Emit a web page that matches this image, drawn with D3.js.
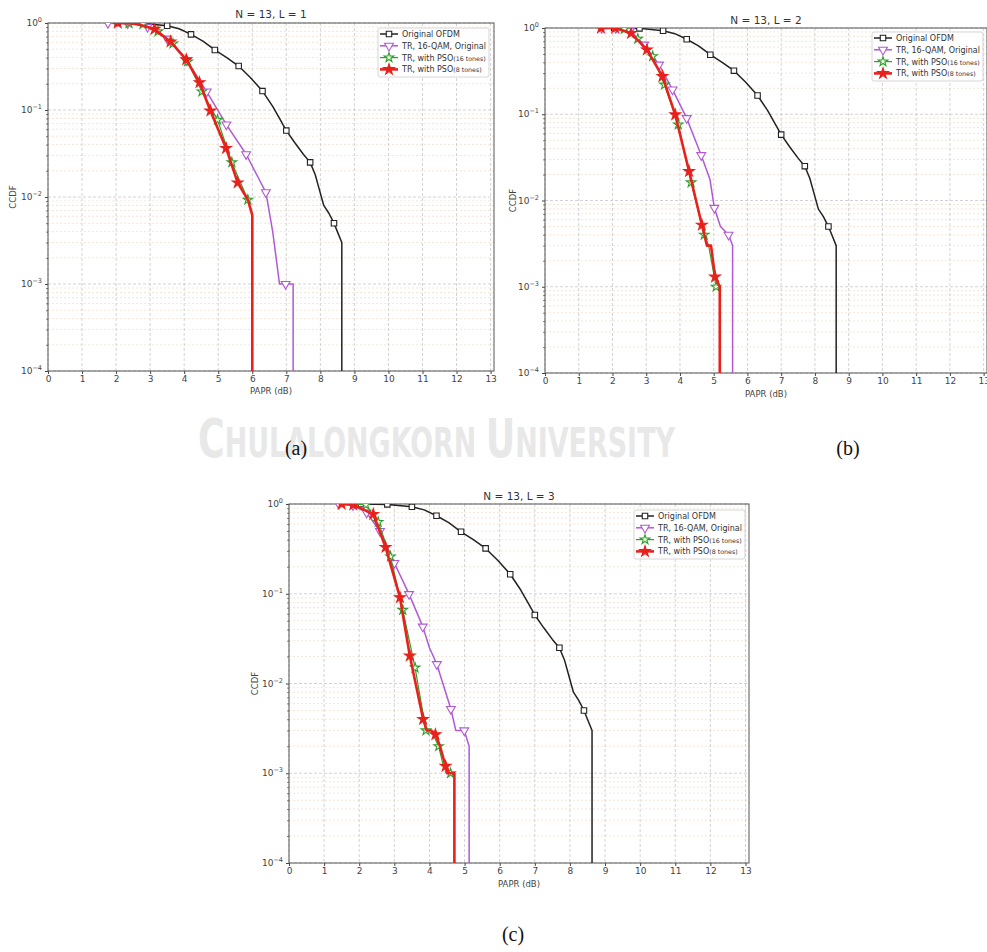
<!DOCTYPE html>
<html><head><meta charset="utf-8">
<script src="https://cdnjs.cloudflare.com/ajax/libs/d3/7.8.5/d3.min.js"></script>
<style>body{margin:0;background:#fff}svg{display:block}</style>
</head><body><svg id="fig" width="987" height="952"></svg>
<script>
//ticks and labels
var xTicks=d3.range(0,14);
var yTicks=[1e-4,1e-3,1e-2,1e-1,1];
var yExp=["\u22124","\u22123","\u22122","\u22121","0"];
var titles=["N = 13, L = 1","N = 13, L = 2","N = 13, L = 3"];
var captions=["(a)","(b)","(c)"];
var names=["Original OFDM","TR, 16-QAM, Original","TR, with PSO","TR, with PSO"];
var nameTail=["","","(16 tones)","(8 tones)"];

// [PAPR dB, CCDF, marker?]
var ofdm=[[2.05,1,1],[2.8,0.99,1],[3.5,0.93,1],[3.85,0.86,0],[4.2,0.74,1],[4.55,0.62,0],[4.9,0.49,1],[5.25,0.40,0],[5.6,0.32,1],[5.95,0.235,0],[6.3,0.165,1],[6.6,0.11,0],[6.8,0.08,0],[7.0,0.058,1],[7.25,0.042,0],[7.5,0.031,0],[7.7,0.025,1],[7.85,0.018,0],[7.95,0.013,0],[8.1,0.008,0],[8.25,0.0065,0],[8.4,0.005,1],[8.5,0.004,0],[8.63,0.003,0],[8.63,1e-5,0]];

var qamA=[[1.76,1,1],[2.34,0.99,1],[2.92,0.9,1],[3.5,0.66,1],[4.08,0.37,1],[4.66,0.163,1],[5.24,0.068,1],[5.82,0.031,1],[6.1,0.019,0],[6.4,0.0113,1],[6.6,0.004,0],[6.8,0.001,0],[6.98,0.001,1],[7.2,0.001,0],[7.2,1e-5,0]];
var pso16A=[[1.95,1,0],[2.38,0.99,1],[2.79,0.97,1],[3.23,0.8,1],[3.67,0.58,1],[4.1,0.36,1],[4.52,0.163,1],[4.98,0.077,1],[5.4,0.025,1],[5.87,0.0093,1],[6.0,0.0062,0],[6.0,1e-5,0]];
var pso8A=[[1.9,1,0],[2.05,1,1],[2.6,0.98,0],[3.13,0.85,1],[3.6,0.61,1],[4.06,0.38,1],[4.45,0.207,1],[4.77,0.098,1],[5.23,0.0364,1],[5.57,0.0146,1],[5.87,0.0093,0],[6.0,0.0062,0],[6.0,1e-5,0]];

var qamB=[[1.68,1,1],[2.1,1,1],[2.52,0.93,1],[2.94,0.64,1],[3.38,0.376,1],[3.78,0.193,1],[4.2,0.09,1],[4.63,0.0335,1],[4.89,0.0175,0],[5.02,0.0082,1],[5.2,0.005,0],[5.44,0.004,1],[5.56,0.003,0],[5.56,1e-5,0]];
var pso16B=[[1.9,1,0],[2.35,0.97,1],[2.75,0.75,1],[3.19,0.47,1],[3.54,0.22,1],[3.95,0.076,1],[4.33,0.0162,1],[4.72,0.004,1],[4.85,0.003,0],[5.07,0.001,1],[5.18,0.001,0],[5.18,1e-5,0]];
var pso8B=[[1.66,1,1],[2.08,1,1],[2.55,0.87,1],[3.02,0.56,1],[3.48,0.275,1],[3.86,0.099,1],[4.27,0.0218,1],[4.65,0.0052,1],[4.8,0.003,0],[4.92,0.003,0],[5.04,0.0013,1],[5.18,0.001,0],[5.18,1e-5,0]];

var qamC=[[1.42,1,1],[1.82,0.97,1],[2.21,0.8,1],[2.59,0.5,1],[3.0,0.22,1],[3.42,0.099,1],[3.81,0.043,1],[4.0,0.025,0],[4.21,0.0164,1],[4.61,0.0052,1],[4.75,0.003,0],[4.99,0.003,1],[5.13,0.002,0],[5.13,1e-5,0]];
var pso16C=[[1.8,1,0],[2.19,0.98,1],[2.54,0.63,1],[2.89,0.26,1],[3.24,0.066,1],[3.59,0.015,1],[3.9,0.003,1],[4.05,0.003,0],[4.26,0.002,1],[4.4,0.0012,0],[4.6,0.001,1],[4.71,0.001,0],[4.71,1e-5,0]];
var pso8C=[[1.5,1,1],[1.83,0.98,1],[2.4,0.77,1],[2.75,0.33,1],[3.16,0.091,1],[3.44,0.0204,1],[3.82,0.004,1],[3.92,0.003,0],[4.05,0.003,0],[4.17,0.0027,1],[4.3,0.002,0],[4.46,0.0012,1],[4.5,0.001,0],[4.71,0.001,0],[4.71,1e-5,0]];

var svg=d3.select("#fig");
var font="DejaVu Sans, sans-serif";

//series styles
var styles=[
    {color:"#222",width:1.5,sym:d3.symbolSquare,size:30,fill:"#fff",rot:0},
    {color:"#b159d4",width:1.5,sym:d3.symbolTriangle,size:34,fill:"#fff",rot:180},
    {color:"#2ca02c",width:1.2,sym:d3.symbolStar,size:28,fill:"#f2f7e8",rot:0},
    {color:"#e8211c",width:2.6,sym:d3.symbolStar,size:36,fill:"#e8211c",rot:0}
];

var panels=[
    {l:48,r:494,t:23,b:371,series:[ofdm,qamA,pso16A,pso8A],lx:378,ly:28,ty:18,xly:394,yl:13},
    {l:545,r:987,t:28,b:373,series:[ofdm,qamB,pso16B,pso8B],lx:872,ly:32,ty:24,xly:397,yl:513},
    {l:289,r:749,t:504,b:863,series:[ofdm,qamC,pso16C,pso8C],lx:634,ly:510,ty:500,xly:887,yl:255}
];

function drawPanel(p,i){
    var x=d3.scaleLinear().domain([0,13.1]).range([p.l,p.r]);
    var y=d3.scaleLog().domain([1e-4,1]).range([p.b,p.t]);
    var g=svg.append("g");
    g.append("clipPath").attr("id","clip"+i).append("rect")
        .attr("x",p.l).attr("y",p.t).attr("width",p.r-p.l).attr("height",p.b-p.t);

    //minor grid
    var minor=[];
    for(var e=-4;e<0;e++){for(var k=2;k<10;k++){minor.push(k*Math.pow(10,e));}}
    g.selectAll(".mg").data(minor).enter().append("line")
        .attr("x1",p.l).attr("x2",p.r).attr("y1",d=>y(d)).attr("y2",d=>y(d))
        .attr("stroke","#f3dfc9").attr("stroke-width",0.8).attr("stroke-dasharray","2,2");
    g.selectAll(".hg").data(yTicks).enter().append("line")
        .attr("x1",p.l).attr("x2",p.r).attr("y1",d=>y(d)).attr("y2",d=>y(d))
        .attr("stroke","#c8c8c8").attr("stroke-width",0.8).attr("stroke-dasharray","3,2");
    g.selectAll(".vg").data(xTicks).enter().append("line")
        .attr("y1",p.t).attr("y2",p.b).attr("x1",d=>x(d)).attr("x2",d=>x(d))
        .attr("stroke","#c8c8c8").attr("stroke-width",0.8).attr("stroke-dasharray","3,2");

    //axes
    var ax=g.append("g").attr("transform","translate(0,"+p.b+")")
        .call(d3.axisBottom(x).tickValues(xTicks).tickSize(3).tickSizeOuter(0).tickPadding(2));
    ax.select(".domain").remove();
    ax.selectAll("text").attr("font-family",font).attr("font-size",9).attr("fill","#444");
    ax.selectAll("line").attr("stroke","#444");
    var ay=g.append("g").attr("transform","translate("+p.l+",0)")
        .call(d3.axisLeft(y).tickValues(yTicks).tickSize(3).tickSizeOuter(0).tickFormat(""));
    ay.select(".domain").remove();
    ay.selectAll("line").attr("stroke","#444");
    var aym=g.append("g").attr("transform","translate("+p.l+",0)")
        .call(d3.axisLeft(y).tickValues(minor).tickSize(1.8).tickSizeOuter(0).tickFormat(""));
    aym.select(".domain").remove();
    aym.selectAll("line").attr("stroke","#666");
    var yt=g.selectAll(".ytl").data(yTicks).enter().append("text")
        .attr("x",p.l-6).attr("y",d=>y(d)+3).attr("text-anchor","end")
        .attr("font-family",font).attr("font-size",9).attr("fill","#444").text("10");
    yt.append("tspan").attr("dy",-4).attr("font-size",6.5).text((d,j)=>yExp[j]);

    //frame
    g.append("rect").attr("x",p.l).attr("y",p.t).attr("width",p.r-p.l).attr("height",p.b-p.t)
        .attr("fill","none").attr("stroke","#555").attr("stroke-width",1);

    //labels
    g.append("text").attr("x",(p.l+p.r)/2).attr("y",p.ty).attr("text-anchor","middle")
        .attr("font-family",font).attr("font-size",10.5).attr("fill","#333").text(titles[i]);
    g.append("text").attr("x",(p.l+p.r)/2).attr("y",p.xly).attr("text-anchor","middle")
        .attr("font-family",font).attr("font-size",8.5).attr("fill","#444").text("PAPR (dB)");
    g.append("text").attr("transform","translate("+p.yl+","+(p.t+p.b)/2+") rotate(-90)")
        .attr("text-anchor","middle").attr("dy","0.35em")
        .attr("font-family",font).attr("font-size",8.5).attr("fill","#444").text("CCDF");

    //curves
    var line=d3.line().x(d=>x(d[0])).y(d=>y(d[1]));
    var cg=g.append("g").attr("clip-path","url(#clip"+i+")");
    p.series.forEach(function(s,j){
        var st=styles[j];
        cg.append("path").datum(s).attr("d",line).attr("fill","none")
            .attr("stroke",st.color).attr("stroke-width",st.width).attr("stroke-linejoin","round");
        cg.selectAll(".m"+j).data(s.filter(d=>d[2])).enter().append("path")
            .attr("d",d3.symbol().type(st.sym).size(st.size))
            .attr("transform",d=>"translate("+x(d[0])+","+y(d[1])+") rotate("+st.rot+")")
            .attr("fill",st.fill).attr("stroke",st.color).attr("stroke-width",1.1);
    });

    //legend
    var lg=g.append("g").attr("transform","translate("+p.lx+","+p.ly+")");
    var box=lg.append("rect").attr("height",49).attr("rx",2)
        .attr("fill","#fff").attr("fill-opacity",0.9).attr("stroke","#d6d6d6");
    var maxW=0;
    styles.forEach(function(st,j){
        var yy=6+j*11.8;
        lg.append("line").attr("x1",2).attr("x2",20).attr("y1",yy).attr("y2",yy)
            .attr("stroke",st.color).attr("stroke-width",st.width);
        lg.append("path").attr("d",d3.symbol().type(st.sym).size(st.size))
            .attr("transform","translate(11,"+yy+") rotate("+st.rot+")")
            .attr("fill",st.fill).attr("stroke",st.color).attr("stroke-width",1.1);
        var t=lg.append("text").attr("x",24).attr("y",yy+3)
            .attr("font-family",font).attr("font-size",8).attr("fill","#333").text(names[j]);
        if(nameTail[j]){t.append("tspan").attr("font-size",6.3).text(nameTail[j]);}
        maxW=Math.max(maxW,t.node().getComputedTextLength());
    });
    box.attr("width",maxW+27);
}

//watermark
var wm=svg.append("text").attr("x",198).attr("y",457)
    .attr("font-family","Liberation Sans Narrow, DejaVu Sans Condensed, sans-serif")
    .attr("font-weight","bold").attr("fill","#e8e8e8")
    .attr("textLength",477).attr("lengthAdjust","spacingAndGlyphs");
wm.append("tspan").attr("font-size",54).text("C");
wm.append("tspan").attr("font-size",40).text("HULALONGKORN ");
wm.append("tspan").attr("font-size",54).text("U");
wm.append("tspan").attr("font-size",40).text("NIVERSITY");

panels.forEach(drawPanel);

//captions
var capPos=[[296,455],[848,455],[513,941]];
svg.selectAll(".cap").data(captions).enter().append("text")
    .attr("x",(d,i)=>capPos[i][0]).attr("y",(d,i)=>capPos[i][1]).attr("text-anchor","middle")
    .attr("font-family","Liberation Serif, Times New Roman, serif").attr("font-size",20)
    .attr("fill","#111").text(d=>d);
</script></body></html>
